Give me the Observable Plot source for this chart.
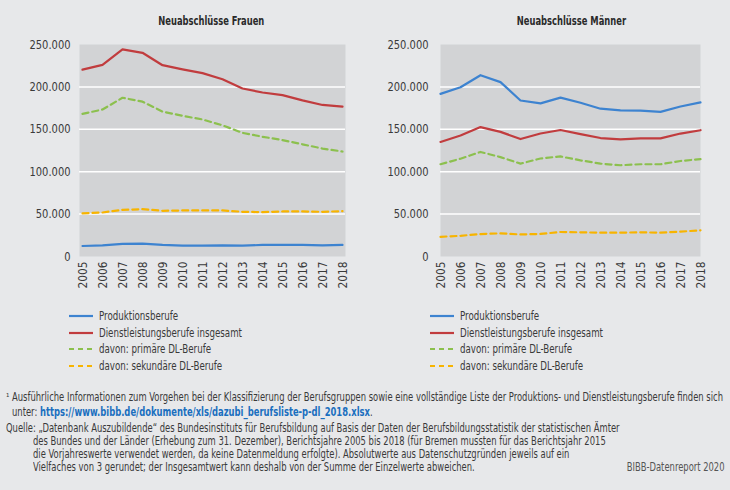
<!DOCTYPE html>
<html>
<head>
<meta charset="utf-8">
<script src="https://cdn.jsdelivr.net/npm/d3@7"></script>
<script src="https://cdn.jsdelivr.net/npm/@observablehq/plot@0.6"></script>
<style>
  html, body { margin: 0; padding: 0; }
  body { width: 730px; height: 490px; background: #e7e8ea; position: relative; overflow: hidden; color: #3a3a3a; }
  .panel { position: absolute; top: 0; width: 365px; height: 300px; }
  .t { position: absolute; white-space: nowrap; line-height: 14px; height: 14px; }
  .title { font-weight: bold; font-size: 12.5px; color: #2a2a2a; transform-origin: center center; }
  .leg { font-size: 12.5px; transform-origin: left center; }
  .note { font-size: 11.5px; transform-origin: left center; }
  .link { color: #1a6fbf; font-weight: bold; }
  .src { font-size: 11.5px; color: #555; transform-origin: right center; }
</style>
</head>
<body>
<div id="left" class="panel" style="left:0"></div>
<div id="right" class="panel" style="left:365px"></div>
<div id="texts"></div>
<script>
const years = [2005, 2006, 2007, 2008, 2009, 2010, 2011, 2012, 2013, 2014, 2015, 2016, 2017, 2018];
const seriesNames = ["Produktionsberufe", "Dienstleistungsberufe insgesamt", "davon: primäre DL-Berufe", "davon: sekundäre DL-Berufe"];
const seriesColors = ["#3d83d0", "#c13c3e", "#8cc04e", "#f7b400"];
const seriesDash = [null, null, "6,4", "6,4"];
const yTicks = [0, 50000, 100000, 150000, 200000, 250000];
const panelTitles = ["Neuabschlüsse Frauen", "Neuabschlüsse Männer"];

const frauenProd = [12400, 13200, 14800, 15200, 13600, 12800, 12800, 13200, 12800, 13600, 13600, 13600, 13200, 13600];
const frauenDL   = [220300, 226000, 244300, 240200, 225600, 220700, 216300, 209000, 198100, 193400, 190300, 184100, 178700, 176700];
const frauenPrim = [168200, 173300, 187200, 182600, 170900, 165900, 161600, 154700, 145800, 141200, 137300, 132300, 127300, 123800];
const frauenSek  = [50800, 51900, 55000, 55800, 53900, 54300, 54300, 54300, 52700, 52300, 53100, 53100, 52700, 53500];

const maennerProd = [191800, 199600, 213800, 205600, 184000, 180600, 187300, 181300, 174300, 172400, 172000, 170500, 176900, 181700];
const maennerDL   = [135100, 142700, 152600, 147000, 138500, 145000, 149200, 144300, 139700, 138200, 139300, 139300, 145000, 148900];
const maennerPrim = [108800, 115300, 123300, 117200, 109500, 115600, 118000, 113400, 109500, 107600, 108800, 108800, 112600, 114900];
const maennerSek  = [23200, 24400, 26500, 27300, 26000, 26600, 28900, 28500, 28100, 28100, 28500, 28100, 29300, 30900];

const noteLine1 = "¹ Ausführliche Informationen zum Vorgehen bei der Klassifizierung der Berufsgruppen sowie eine vollständige Liste der Produktions- und Dienstleistungsberufe finden sich";
const noteUnter = "unter: ";
const noteLink = "https://www.bibb.de/dokumente/xls/dazubi_berufsliste-p-dl_2018.xlsx";
const quelleLines = [
  "Quelle: „Datenbank Auszubildende“ des Bundesinstituts für Berufsbildung auf Basis der Daten der Berufsbildungsstatistik der statistischen Ämter",
  "des Bundes und der Länder (Erhebung zum 31. Dezember), Berichtsjahre 2005 bis 2018 (für Bremen mussten für das Berichtsjahr 2015",
  "die Vorjahreswerte verwendet werden, da keine Datenmeldung erfolgte). Absolutwerte aus Datenschutzgründen jeweils auf ein",
  "Vielfaches von 3 gerundet; der Insgesamtwert kann deshalb von der Summe der Einzelwerte abweichen."
];
const sourceLabel = "BIBB-Datenreport 2020";

// font selection: prefer a narrow face if installed
const ctx = document.createElement("canvas").getContext("2d");
function hasFont(name) {
  const s = "mmmmmmmmmmlliWW Ausführliche 0123456789";
  for (const fb of ["monospace", "serif"]) {
    ctx.font = `40px ${fb}`; const a = ctx.measureText(s).width;
    ctx.font = `40px "${name}", ${fb}`; const b = ctx.measureText(s).width;
    if (a !== b) return true;
  }
  return false;
}
const narrow = ["Liberation Sans Narrow", "DejaVu Sans Condensed"].find(hasFont);
const FONT = narrow ? `"${narrow}", sans-serif` : `Roboto, "Liberation Sans", sans-serif`;
document.body.style.fontFamily = FONT;
function textW(str, px, weight) { ctx.font = `${weight || "normal"} ${px}px ${FONT}`; return ctx.measureText(str).width; }

const sTitle = 106 / textW(panelTitles[0], 12.5, "bold");
const sYTick = 41 / textW("250.000", 13);
const sXTick = 27 / textW("2005", 12.5);
const sLeg = 143 / textW(seriesNames[1], 12.5);
const sNote = 717 / textW(noteLine1, 11.5);

const deLocale = d3.formatLocale({decimal: ",", thousands: ".", grouping: [3], currency: ["", " €"]});
const fmt = deLocale.format(",");

function squeeze(svg, selector, s) {
  svg.querySelectorAll(selector).forEach(t => {
    const tr = t.getAttribute("transform");
    if (tr) t.setAttribute("transform", `${tr} scale(${s},1)`);
    else {
      const x = +t.getAttribute("x") || 0, y = +t.getAttribute("y") || 0;
      t.setAttribute("transform", `translate(${x},0) scale(${s},1) translate(${-x},0)`);
    }
  });
}

function chart(seriesValues, marginLeft, marginRight, yPad) {
  const marks = [
    Plot.frame({fill: "#d2d3d5", stroke: null}),
    Plot.ruleY(yTicks.slice(1, -1), {stroke: "#ffffff", strokeWidth: 1.5}),
  ];
  seriesValues.forEach((vals, i) => {
    const data = years.map((y, j) => ({year: y, value: vals[j]}));
    marks.push(Plot.line(data, {
      x: "year", y: "value", stroke: seriesColors[i], strokeWidth: 2.2,
      strokeDasharray: seriesDash[i] || undefined
    }));
  });
  marks.push(Plot.axisY({ticks: yTicks, tickFormat: fmt, tickSize: 0, tickPadding: yPad, fontSize: 13, label: null}));
  marks.push(Plot.axisX({tickRotate: -90, tickSize: 0, tickPadding: 5, fontSize: 12.5, tickFormat: d => String(d), label: null}));
  const svg = Plot.plot({
    width: 365, height: 300,
    marginTop: 44, marginBottom: 44, marginLeft, marginRight,
    x: {type: "point", domain: years, padding: 0},
    y: {domain: [0, 250000]},
    style: {background: "none", fontFamily: FONT, color: "#3a3a3a", overflow: "visible"},
    marks
  });
  squeeze(svg, 'g[aria-label^="y-axis tick label"] text', sYTick);
  squeeze(svg, 'g[aria-label^="x-axis tick label"] text', sXTick);
  return svg;
}

document.getElementById("left").appendChild(chart([frauenProd, frauenDL, frauenPrim, frauenSek], 79, 20, 9));
document.getElementById("right").appendChild(chart([maennerProd, maennerDL, maennerPrim, maennerSek], 75, 30, 12));

const texts = document.getElementById("texts");
function addText(cls, html, left, cy, scale, extra) {
  const d = document.createElement("div");
  d.className = "t " + cls;
  d.innerHTML = html;
  d.style.left = left + "px";
  d.style.top = (cy - 7) + "px";
  d.style.transform = `scaleX(${scale})` + (extra || "");
  texts.appendChild(d);
  return d;
}
// titles (centred)
[[211, panelTitles[0]], [571, panelTitles[1]]].forEach(([cx, t]) => {
  const d = addText("title", t, cx, 21, sTitle);
  d.style.left = (cx - textW(t, 12.5, "bold") / 2) + "px";
});
// legends
const legRows = [316, 332.5, 349, 365.5];
[[69, 99], [430, 460]].forEach(([lx, tx]) => {
  seriesNames.forEach((name, i) => {
    const sw = document.createElement("div");
    sw.style.cssText = `position:absolute;left:${lx}px;top:${legRows[i] - 3}px`;
    sw.innerHTML = `<svg width="24" height="6" style="display:block"><line x1="0" y1="3" x2="24" y2="3" stroke="${seriesColors[i]}" stroke-width="2.2" ${seriesDash[i] ? `stroke-dasharray="5,4"` : ""}/></svg>`;
    texts.appendChild(sw);
    addText("leg", name, tx, legRows[i], sLeg);
  });
});
// notes
addText("note", noteLine1, 6, 397, sNote);
addText("note", noteUnter + `<span class="link">${noteLink}</span>.`, 12, 412, sNote);
const qY = [427.5, 440.5, 453.5, 466.5];
quelleLines.forEach((l, i) => addText("note", l, i === 0 ? 6 : 33, qY[i], sNote));
const src = addText("src", sourceLabel, 0, 466.5, sNote);
src.style.left = (725 - textW(sourceLabel, 11.5)) + "px";
</script>
</body>
</html>
